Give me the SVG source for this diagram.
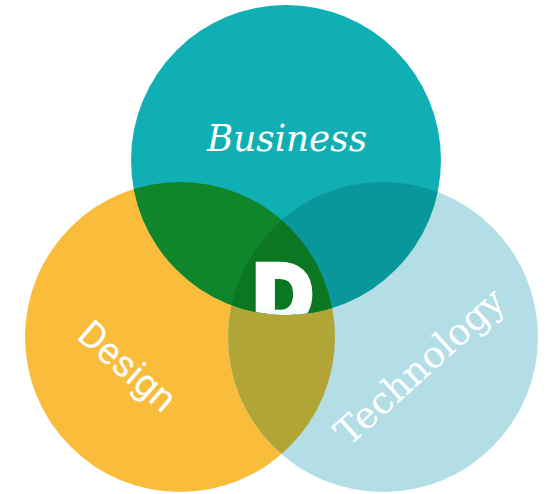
<svg xmlns="http://www.w3.org/2000/svg" width="548" height="494" viewBox="0 0 548 494">
<style>
.lbl{fill:#ffffff;}
.serif-i{font-family:"DejaVu Serif","Liberation Serif",serif;font-style:italic;}
.sans{font-family:Roboto,"Open Sans","Liberation Sans",sans-serif;}
.slab{font-family:"DejaVu Serif","Liberation Serif",serif;}
</style>
<defs>
<clipPath id="cB"><circle cx="286" cy="160" r="155"/></clipPath>
<clipPath id="cD"><circle cx="180" cy="337" r="155"/></clipPath>
<clipPath id="cT"><circle cx="383" cy="337" r="155"/></clipPath>
<linearGradient id="gD" x1="0" y1="0" x2="0" y2="1">
<stop offset="0" stop-color="#ffffff"/>
<stop offset="0.6" stop-color="#ffffff"/>
<stop offset="1" stop-color="#d5eef2"/>
</linearGradient>
</defs>
<rect width="548" height="494" fill="#ffffff"/>
<g id="design">
<circle cx="180" cy="337" r="155" fill="#F9BD3B"/>
</g>
<g id="technology">
<circle cx="383" cy="337" r="155" fill="#B3DEE5"/>
</g>
<g id="business">
<circle cx="286" cy="160" r="155" fill="#0FAFB3"/>
</g>
<g id="overlaps">
<circle cx="383" cy="337" r="155" fill="#B1A635" clip-path="url(#cD)"/>
<circle cx="286" cy="160" r="155" fill="#0E8629" clip-path="url(#cD)"/>
<circle cx="286" cy="160" r="155" fill="#0A979C" clip-path="url(#cT)"/>
<g clip-path="url(#cD)"><circle cx="286" cy="160" r="155" fill="#0B7722" clip-path="url(#cT)"/></g>
</g>
<g id="center-d" clip-path="url(#cB)">
<text transform="translate(283,323) scale(0.95,1)" text-anchor="middle" font-family="'Liberation Sans',Arial,sans-serif" font-weight="bold" font-size="84" fill="url(#gD)" stroke="url(#gD)" stroke-width="8" stroke-linejoin="miter">D</text>
</g>
<g id="labels">
<text class="lbl serif-i" x="287" y="151" text-anchor="middle" font-size="38" textLength="160" lengthAdjust="spacingAndGlyphs">Business</text>
<text class="lbl sans" transform="translate(119,376) rotate(41)" text-anchor="middle" font-size="38">Design</text>
<text class="lbl slab" transform="translate(428,376) rotate(-42)" text-anchor="middle" font-size="37">Technology</text>
</g>
<g id="connectors"/>
</svg>
